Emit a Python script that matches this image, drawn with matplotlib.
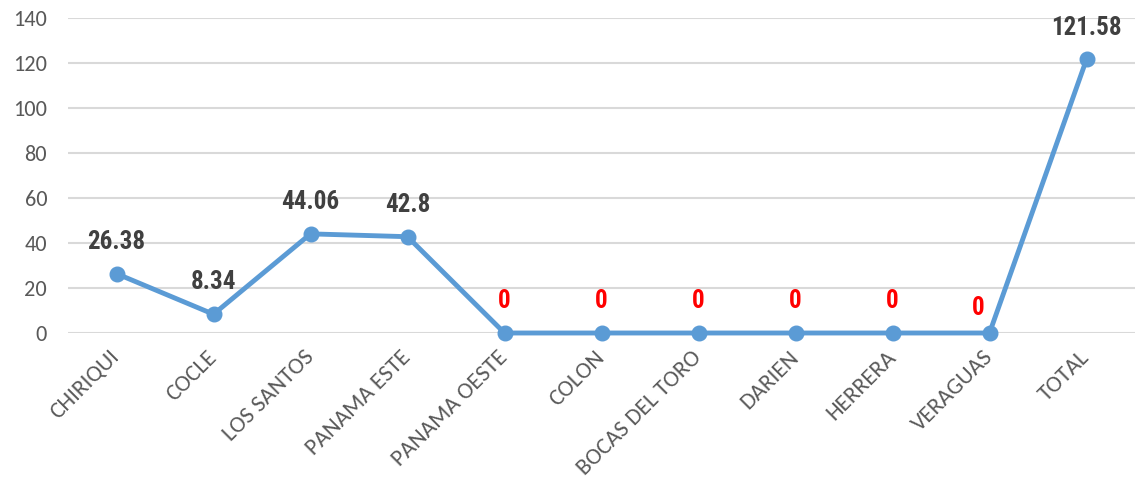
import matplotlib.pyplot as plt
from matplotlib import font_manager

# data
regions = ['CHIRIQUI', 'COCLE', 'LOS SANTOS', 'PANAMA ESTE', 'PANAMA OESTE', 'COLON',
           'BOCAS DEL TORO', 'DARIEN', 'HERRERA', 'VERAGUAS', 'TOTAL']
values = [26.38, 8.34, 44.06, 42.8, 0, 0, 0, 0, 0, 0, 121.58]
value_labels = ['26.38', '8.34', '44.06', '42.8', '0', '0', '0', '0', '0', '0', '121.58']
y_ticks = [0, 20, 40, 60, 80, 100, 120, 140]

line_color = '#5B9BD5'
text_grey = '#595959'

fonts = font_manager.fontManager.ttflist
bold_names = {f.name for f in fonts if isinstance(f.weight, int) and f.weight >= 700
              or f.weight in ('bold', 'heavy', 'black')}
all_names = {f.name for f in fonts}


def pick(cands, pool):
    for c in cands:
        if c in pool:
            return c
    return 'DejaVu Sans'


label_font = pick(['Liberation Sans Narrow', 'Arial Narrow', 'Roboto Condensed', 'Archivo Narrow',
                   'PT Sans Narrow', 'Fira Sans Condensed', 'IBM Plex Sans Condensed',
                   'Open Sans Condensed', 'Encode Sans Condensed', 'Barlow Condensed',
                   'Pathway Gothic One', 'Oswald'], bold_names)
tick_font = pick(['Carlito', 'Calibri', 'Open Sans'], all_names)

fig = plt.figure(figsize=(11.35, 4.83), dpi=100)
ax = fig.add_axes([68 / 1135, 1 - 333 / 483, 1 - 68 / 1135, (333 - 18) / 483])

x = list(range(len(regions)))
ax.plot(x, values, color=line_color, linewidth=3.5, marker='o', markersize=10.5,
        solid_capstyle='round', zorder=3, clip_on=False)

# data labels
for i, (v, lab) in enumerate(zip(values, value_labels)):
    color = 'red' if v == 0 else '#404040'
    dx, dy = 0, 23
    if regions[i] == 'VERAGUAS':
        dx, dy = -8, 18
    ax.annotate(lab, (i, v), xytext=(dx, dy), textcoords='offset points',
                ha='center', va='center', color=color, fontsize=18, fontweight='bold',
                family=[label_font, 'DejaVu Sans'])

ax.set_xlim(-0.5, len(regions) - 0.5)
ax.set_ylim(0, 140)
ax.set_yticks(y_ticks)
ax.set_yticklabels([str(t) for t in y_ticks])
ax.set_xticks(x)
ax.set_xticklabels(regions, rotation=45, ha='right', va='center', rotation_mode='anchor',
                   fontsize=16.8)

ax.grid(axis='y', color='#D9D9D9', linewidth=1.5)
ax.set_axisbelow(True)
for s in ax.spines.values():
    s.set_visible(False)
ax.tick_params(axis='both', length=0, colors=text_grey)
ax.tick_params(axis='y', pad=15, labelsize=16)
ax.tick_params(axis='x', pad=15)
for t in ax.get_xticklabels() + ax.get_yticklabels():
    t.set_family([tick_font, 'DejaVu Sans'])

fig.savefig('out.png', dpi=100)
